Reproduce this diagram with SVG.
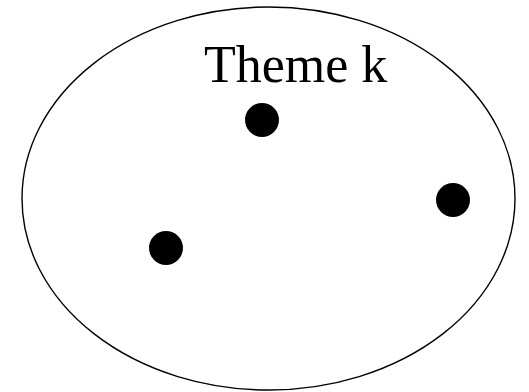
<svg xmlns="http://www.w3.org/2000/svg" width="529" height="392" viewBox="0 0 529 392">
<style>
.dot{fill:#000}
.lbl{font-family:"Liberation Serif","Times New Roman",serif;font-size:52px;fill:#000}
</style>
<rect width="529" height="392" fill="#fff"/>
<g id="theme">
<ellipse cx="268.5" cy="198.5" rx="246.5" ry="191.5" fill="none" stroke="#000" stroke-width="1.4"/>
<text class="lbl" x="204" y="82">Theme k</text>
</g>
<g id="p1"><circle class="dot" cx="262" cy="120" r="17"/></g>
<g id="p2"><circle class="dot" cx="453" cy="200" r="17"/></g>
<g id="p3"><circle class="dot" cx="166" cy="248" r="17"/></g>
<g id="connectors"></g>
</svg>
